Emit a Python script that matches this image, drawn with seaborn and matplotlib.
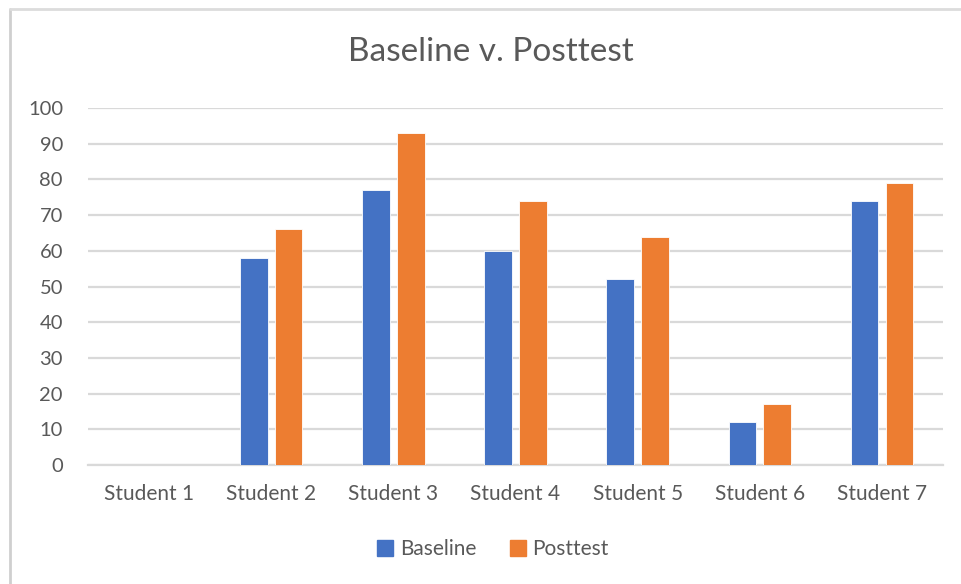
import matplotlib
matplotlib.use("Agg")
import matplotlib.pyplot as plt
from matplotlib.lines import Line2D
import pandas as pd
import seaborn as sns

students = ["Student 1", "Student 2", "Student 3", "Student 4",
            "Student 5", "Student 6", "Student 7"]
baseline = [0, 58, 77, 60, 52, 12, 74]
posttest = [0, 66, 93, 74, 64, 17, 79]
series_names = ["Baseline", "Posttest"]
colors = ["#4472C4", "#ED7D31"]
y_ticks = list(range(0, 101, 10))

df = pd.DataFrame({
    "Student": students * 2,
    "Score": baseline + posttest,
    "Series": [series_names[0]] * len(students) + [series_names[1]] * len(students),
})

sns.set_theme(style="white")
plt.rcParams["font.family"] = ["Lato", "DejaVu Sans"]
text_color = "#595959"
grid_color = "#D9D9D9"

fig = plt.figure(figsize=(9.62, 5.84), dpi=100)
ax = fig.add_axes([88 / 962, 1 - 465 / 584, (943 - 88) / 962, (465 - 108) / 584])

sns.barplot(data=df, x="Student", y="Score", hue="Series",
            palette=colors, saturation=1, width=0.57, gap=0.21,
            edgecolor="#ffffff", linewidth=0.6, ax=ax, legend=False, zorder=3)

ax.set_ylim(0, 100)
ax.set_yticks(y_ticks)
ax.set_xlim(-0.5, len(students) - 0.5)
ax.yaxis.grid(True, color=grid_color, linewidth=1.6, zorder=0)
ax.set_axisbelow(True)
for side in ["top", "right", "left"]:
    ax.spines[side].set_visible(False)
ax.spines["bottom"].set_color(grid_color)
ax.spines["bottom"].set_linewidth(1.6)
ax.spines["bottom"].set_zorder(1)
ax.set_xlabel("")
ax.set_ylabel("")
ax.tick_params(axis="y", length=0, pad=18, labelsize=14.5, labelcolor=text_color)
ax.tick_params(axis="x", length=0, pad=14, labelsize=15, labelcolor=text_color)

fig.text(491 / 962, 1 - 52 / 584, "Baseline v. Posttest", ha="center", va="center",
         fontsize=24, color=text_color)

handles = [Line2D([0], [0], marker="s", linestyle="", markersize=11,
                  markerfacecolor=c, markeredgecolor=c) for c in colors]
fig.legend(handles, series_names, loc="center", bbox_to_anchor=(493 / 962, 1 - 549 / 584),
           ncol=2, frameon=False, fontsize=15, labelcolor=text_color,
           handletextpad=0.3, columnspacing=1.6, handlelength=0.8)

# frame edges of the chart area
fig.add_artist(Line2D([10 / 962, 10 / 962], [0, 1 - 9 / 584], color="#CFCFCF", linewidth=2))
fig.add_artist(Line2D([10 / 962, 1], [1 - 9 / 584, 1 - 9 / 584], color="#DCDCDC", linewidth=2))

fig.savefig("out.png", dpi=100, facecolor="white")
